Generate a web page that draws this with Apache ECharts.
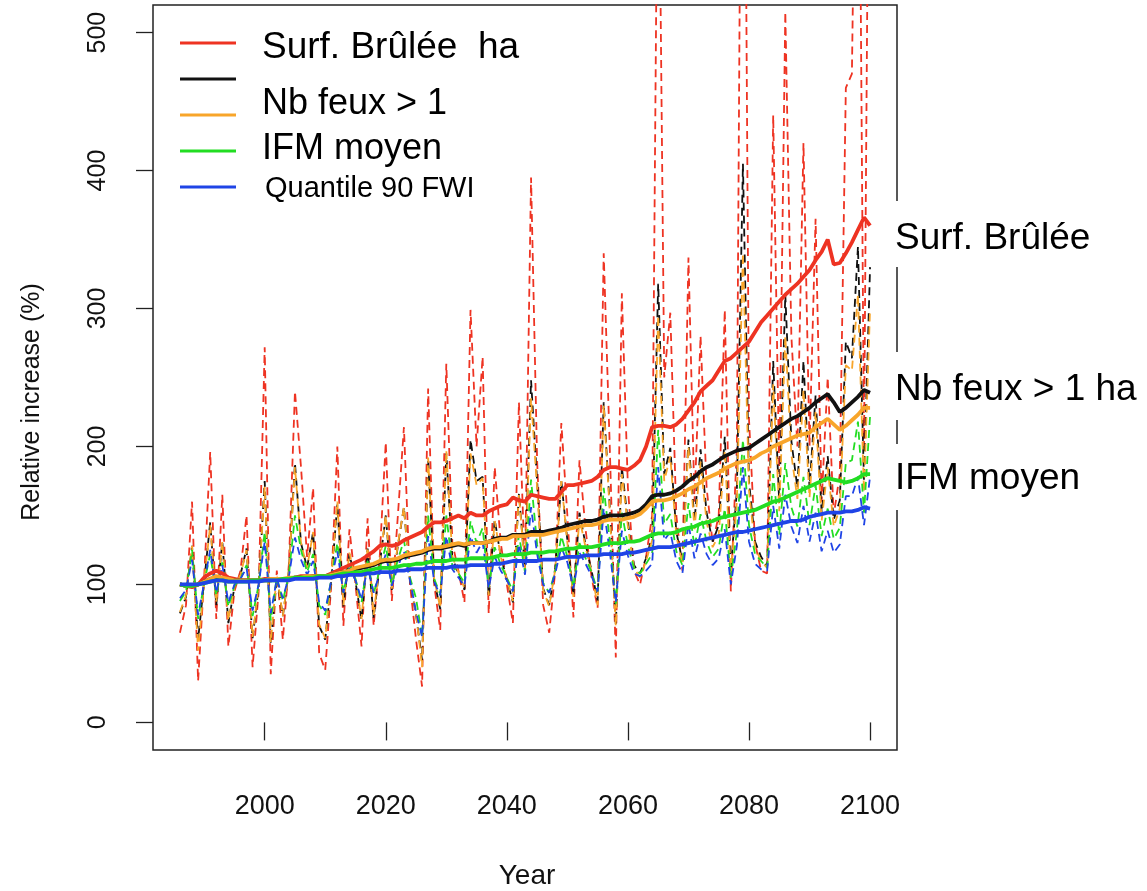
<!DOCTYPE html>
<html>
<head>
<meta charset="utf-8">
<script src="https://cdn.jsdelivr.net/npm/echarts@6/dist/echarts.min.js"></script>
<style>html,body{margin:0;padding:0;background:#fff}#c{width:1147px;height:891px}</style>
</head>
<body>
<div id="c"></div>
<script>
// ---- data ----
const years = [1986,1987,1988,1989,1990,1991,1992,1993,1994,1995,1996,1997,1998,1999,
2000,2001,2002,2003,2004,2005,2006,2007,2008,2009,2010,2011,2012,2013,2014,2015,2016,2017,2018,2019,
2020,2021,2022,2023,2024,2025,2026,2027,2028,2029,2030,2031,2032,2033,2034,2035,2036,2037,2038,2039,
2040,2041,2042,2043,2044,2045,2046,2047,2048,2049,2050,2051,2052,2053,2054,2055,2056,2057,2058,2059,
2060,2061,2062,2063,2064,2065,2066,2067,2068,2069,2070,2071,2072,2073,2074,2075,2076,2077,2078,2079,
2080,2081,2082,2083,2084,2085,2086,2087,2088,2089,2090,2091,2092,2093,2094,2095,2096,2097,2098,2099,2100];

// annual values (dashed)
const surfAnnual = [65,85,160,30,105,196,75,165,55,95,110,150,40,95,
272,35,110,60,115,240,185,120,170,50,38,100,200,70,140,100,55,148,70,120,
203,88,150,214,100,60,26,242,100,67,260,130,110,87,299,200,265,79,185,130,
100,72,232,110,395,190,85,65,110,217,150,76,190,140,105,83,340,200,47,311,
170,110,100,120,150,700,250,297,150,110,337,160,280,170,130,150,299,95,200,900,
220,130,110,108,440,180,515,280,200,420,200,365,160,250,150,180,460,470,800,200,800];
const feuxAnnual = [79,91,128,60,102,145,85,131,72,98,107,126,61,98,
175,57,106,77,110,188,130,112,138,70,60,103,158,84,122,102,74,126,76,114,
150,96,128,156,103,78,45,190,103,82,195,119,108,96,205,175,178,91,147,120,
104,87,166,111,248,175,97,85,112,175,132,92,152,129,110,88,232,156,71,185,
145,114,108,119,135,318,180,199,138,117,205,146,198,152,131,143,207,111,168,405,
175,131,120,113,262,159,310,204,170,262,170,237,152,193,147,161,276,264,345,175,330];
const feuxAnnualB = [80,92,128,52,102,143,87,131,74,98,107,125,62,99,
171,58,107,77,111,185,130,112,138,71,61,104,160,85,123,103,75,127,78,116,
150,97,129,156,104,79,40,192,104,83,197,120,109,97,195,172,177,92,146,120,
104,88,165,111,235,170,96,84,111,175,130,91,148,127,109,85,230,153,70,180,
142,112,105,117,132,295,175,193,135,115,200,140,189,145,127,136,197,108,160,340,
168,127,117,112,245,153,280,194,162,241,163,225,146,185,142,155,259,255,310,167,300];
const ifmAnnual = [88,95,125,75,101,122,92,116,84,99,104,114,77,100,
138,74,105,88,107,150,125,109,122,85,78,104,130,94,115,104,87,117,93,111,
128,100,118,132,105,90,62,150,104,93,150,113,108,101,146,130,141,98,127,114,
105,95,136,109,176,129,101,94,110,135,120,98,130,119,109,95,170,132,86,152,
128,112,108,115,122,212,144,151,124,114,159,127,151,131,120,126,155,105,138,205,
143,122,117,112,180,136,188,156,142,178,143,172,135,155,133,141,188,190,218,152,222];
const fwiAnnual = [90,96,118,78,101,125,94,114,87,100,104,112,81,100,
131,79,104,90,106,134,118,107,117,87,81,103,124,94,112,103,89,113,94,108,
122,99,113,124,103,80,62,135,102,92,135,111,105,99,135,123,131,97,120,110,
103,95,129,107,156,122,100,94,108,127,116,97,123,115,106,95,155,124,87,139,
121,108,106,110,115,185,132,138,117,108,144,119,137,122,114,119,140,100,128,185,
131,115,111,110,157,126,165,142,130,157,131,152,124,139,123,129,164,164,178,143,178];

// smoothed values (solid)
const surfSmooth = [100,99,98,100,105,108,110,108,105,104,
103,103,103,103,104,104,104,104,104,105,
106,106,106,106,106,108,110,112,114,116,
118,121,124,128,129,128,129,132,134,136,
138,142,145,145,146,148,150,148,152,150,
150,153,155,157,158,163,161,160,165,164,
163,162,162,167,172,172,173,174,175,178,
183,185,185,184,183,186,190,200,214,215,
215,214,216,220,226,232,240,244,248,255,
262,264,268,272,276,283,290,295,300,305,
310,314,318,323,328,335,341,350,332,333,
340,348,357,366,360];
const feuxSmooth = [100,99,99,100,102,104,105,104,103,103,
103,103,103,103,103,103,104,104,104,105,
105,105,106,106,106,107,108,109,110,111,
112,113,114,116,117,117,118,120,121,122,
123,125,126,126,127,128,129,128,130,130,
130,131,133,134,134,136,136,136,138,138,
138,139,140,141,143,144,145,146,146,147,
149,150,150,150,151,152,154,158,164,165,
165,166,168,171,175,178,182,185,187,190,
193,195,197,198,199,202,205,208,211,214,
217,220,222,225,228,232,235,238,232,225,
228,232,236,241,239];
const feuxSmoothB = [100,99,99,100,102,104,106,105,104,103,
103,103,103,103,103,104,104,104,105,105,
105,106,106,106,106,107,108,109,110,112,
113,114,115,117,118,118,119,121,122,123,
124,126,127,127,128,129,130,129,130,130,
130,131,132,133,133,135,135,135,136,136,
136,137,138,139,140,141,142,143,143,144,
146,147,147,147,148,149,151,155,160,161,
161,162,164,166,169,171,174,177,179,181,
184,186,188,189,190,192,195,197,200,202,
204,206,208,209,210,214,217,220,216,212,
215,219,223,228,228];
const ifmSmooth = [100,99,99,100,101,102,103,103,102,102,
102,102,103,103,103,103,103,104,104,105,
105,105,105,106,106,106,107,108,108,109,
109,110,111,112,112,112,113,114,114,115,
115,116,117,117,117,118,118,118,119,119,
119,119,120,121,121,122,122,122,123,123,
123,124,124,125,126,126,127,127,127,128,
129,130,130,130,131,131,132,134,136,137,
137,137,138,140,141,142,144,145,146,148,
149,150,151,152,153,154,156,158,160,161,
163,165,167,169,171,173,175,177,176,175,
174,175,177,180,180];
const fwiSmooth = [100,100,100,100,101,102,103,103,102,102,
102,102,102,102,103,103,103,103,103,104,
104,104,104,105,105,105,106,106,107,107,
107,108,108,109,109,109,110,110,111,111,
111,112,112,112,112,113,113,113,114,114,
114,114,115,115,116,117,117,117,117,117,
118,118,118,119,120,120,120,121,121,121,
122,122,122,122,123,123,124,125,126,127,
127,127,128,129,130,131,132,133,134,135,
136,137,138,138,139,140,141,142,143,144,
145,146,146,147,149,150,151,152,152,152,
153,153,154,156,155];

const xTicks = [2000,2020,2040,2060,2080,2100];
const yTicks = [0,100,200,300,400,500];

const legendNames = ['Surf. Brûlée  ha', 'Nb feux > 1', 'IFM moyen', 'Quantile 90 FWI'];
const endLabels = ['Surf. Brûlée', 'Nb feux > 1 ha', 'IFM moyen'];

const C = {red:'#ee3322', black:'#111111', orange:'#f8a52a', green:'#22dd22', blue:'#1f44e6'};

// ---- chart ----
const pairs = arr => years.map((y, i) => [y, arr[i]]);
const dashed = (name, arr, color) => ({
  name, type:'line', data: pairs(arr), showSymbol:false, symbol:'none', clip:true,
  lineStyle:{color, width:1.8, type:[8,5]}, itemStyle:{color}, silent:true, z:2
});
const solid = (name, arr, color) => ({
  name, type:'line', data: pairs(arr), showSymbol:false, symbol:'none', clip:true,
  lineStyle:{color, width:3.8}, itemStyle:{color}, silent:true, z:3
});

const F = '"Liberation Sans", Arial, "DejaVu Sans", sans-serif';
const txt = (text, x, y, size, extra) => Object.assign({
  type:'text', x, y, z:100,
  style:{text, fill:'#000', font: size + 'px ' + F, textAlign:'left', textVerticalAlign:'middle'}
}, extra || {});
const ln = (x1, x2, y, color) => ({type:'line', z:100, shape:{x1, y1:y, x2, y2:y}, style:{stroke:color, lineWidth:3}});
const wrect = (x, y, w, h) => ({type:'rect', z:99, shape:{x, y, width:w, height:h}, style:{fill:'#fff'}});

const chart = echarts.init(document.getElementById('c'), null, {renderer:'canvas'});
chart.setOption({
  animation:false,
  backgroundColor:'#fff',
  grid:{left:153, top:5, width:744, height:745, show:true, borderColor:'#222', borderWidth:1.5, backgroundColor:'transparent'},
  xAxis:{type:'value', min:1981.55, max:2104.45,
    axisLine:{show:false},
    axisTick:{show:true, length:18, lineStyle:{color:'#222', width:1.3}, customValues: xTicks},
    axisLabel:{customValues: xTicks, margin:43, fontSize:27, fontFamily:F, color:'#111', formatter: v => String(v)},
    splitLine:{show:false}},
  yAxis:{type:'value', min:-20, max:520,
    axisLine:{show:false},
    axisTick:{show:true, length:17, lineStyle:{color:'#222', width:1.3}, customValues: yTicks},
    axisLabel:{customValues: yTicks, rotate:90, margin:42, fontSize:25, fontFamily:F, color:'#111', formatter: v => String(v)},
    splitLine:{show:false}},
  series:[
    dashed(legendNames[0], surfAnnual, C.red),
    dashed(legendNames[1], feuxAnnual, C.black),
    dashed(legendNames[1] + ' b', feuxAnnualB, C.orange),
    dashed(legendNames[2], ifmAnnual, C.green),
    dashed(legendNames[3], fwiAnnual, C.blue),
    solid(legendNames[0] + ' lisse', surfSmooth, C.red),
    solid(legendNames[1] + ' lisse', feuxSmooth, C.black),
    solid(legendNames[1] + ' b lisse', feuxSmoothB, C.orange),
    solid(legendNames[2] + ' lisse', ifmSmooth, C.green),
    solid(legendNames[3] + ' lisse', fwiSmooth, C.blue)
  ],
  graphic:{elements:[
    // legend
    ln(180, 236, 43, C.red),
    txt(legendNames[0], 262, 48, 37),
    ln(180, 236, 79, C.black),
    txt(legendNames[1], 262, 104, 36),
    wrect(258, 112, 210, 8),
    ln(180, 236, 115, C.orange),
    txt(legendNames[2], 262, 149, 36),
    ln(180, 236, 151, C.green),
    ln(180, 236, 187, C.blue),
    txt(legendNames[3], 265, 189, 29),
    // end labels (cover the frame)
    wrect(891, 201, 256, 66),
    txt(endLabels[0], 895, 239, 37),
    wrect(891, 352, 256, 68),
    txt(endLabels[1], 895, 390, 37),
    wrect(891, 444, 256, 66),
    txt(endLabels[2], 895, 479, 37),
    // axis titles
    txt('Relative increase (%)', 0, 0, 25, {x:32, y:402, rotation:Math.PI/2,
      style:{text:'Relative increase (%)', fill:'#111', font:'25px ' + F, textAlign:'center', textVerticalAlign:'middle'}}),
    txt('Year', 0, 0, 28, {x:527, y:876,
      style:{text:'Year', fill:'#111', font:'28px ' + F, textAlign:'center', textVerticalAlign:'middle'}})
  ]}
});
</script>
</body>
</html>
